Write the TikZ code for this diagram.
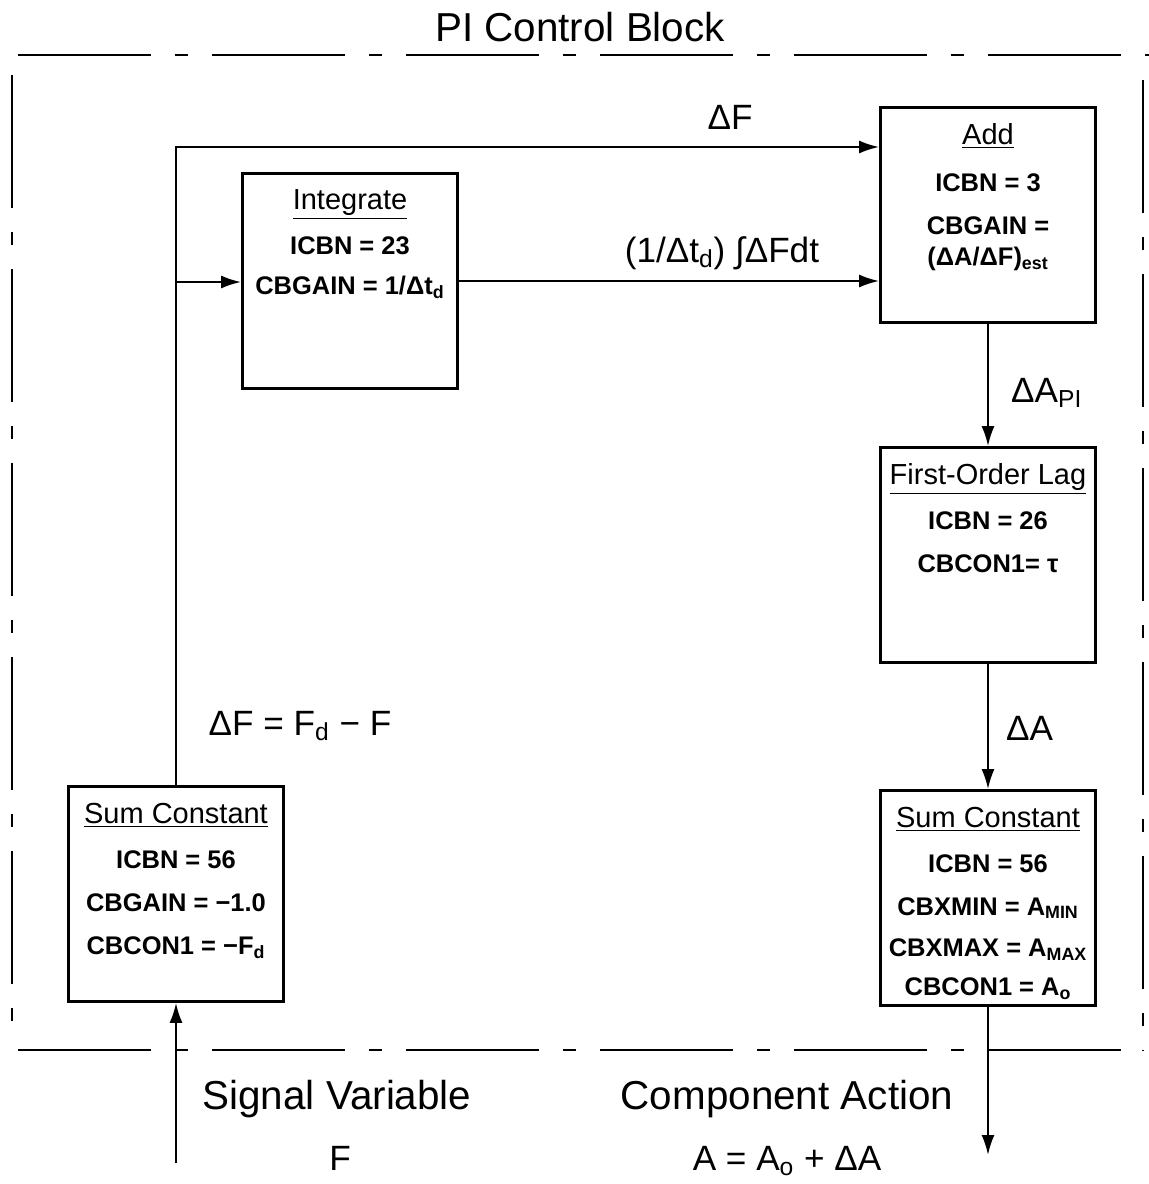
\documentclass[tikz,border=0pt]{standalone}
\usepackage{fontspec}
\setmainfont{Liberation Sans}
\usetikzlibrary{arrows.meta,positioning}

\newcommand{\blockhead}[1]{\underline{\fontsize{16.5}{24.5}\selectfont\mdseries #1}}

\begin{document}
\begin{tikzpicture}[
    x=0.02cm, y=-0.02cm,
    block/.style={rectangle, draw, line width=1.6pt, minimum width=4.3cm, minimum height=4.3cm, inner sep=0pt},
    blocktext/.style={align=center, inner sep=0pt, font=\fontsize{14.5}{24.5}\selectfont\bfseries},
    flow/.style={-{Latex[length=4mm,width=2.6mm]}, line width=1.2pt},
    flowlabel/.style={anchor=base, font=\fontsize{20}{24}\selectfont},
    biglabel/.style={anchor=base, font=\fontsize{23}{27}\selectfont},
    frame/.style={line width=1.6pt, dash pattern=on 2.66cm off 0.48cm on 0.26cm off 0.48cm}
]
\useasboundingbox (0,0) rectangle (1149,1184);

% PI block frame
\node[biglabel] (title) at (580,41) {PI Control Block};
\draw[frame] (18,55) -- (1149,55);
\draw[frame] (12,75) -- (12,1032);
\draw[frame] (18,1050) -- (1140,1050);
\draw[frame] (1143,80) -- (1143,1050);

% Blocks
\node[block] (integ) at (350,281) {};
\node[blocktext, below=0.35cm of integ.north] (integtxt) {\blockhead{Integrate}\\[1pt] ICBN = 23\\[-2pt] CBGAIN = 1/Δt\textsubscript{d}};

\node[block] (add) at (988,215) {};
\node[blocktext, below=0.35cm of add.north] (addtxt) {\blockhead{Add}\\[2pt] ICBN = 3\\ CBGAIN =\\[-7pt] (ΔA/ΔF)\textsubscript{est}};

\node[block] (lag) at (988,555) {};
\node[blocktext, below=0.35cm of lag.north] (lagtxt) {\blockhead{First-Order Lag}\\[1pt] ICBN = 26\\ CBCON1= τ};

\node[block] (lsum) at (176,894) {};
\node[blocktext, below=0.35cm of lsum.north] (lsumtxt) {\blockhead{Sum Constant}\\[1pt] ICBN = 56\\ CBGAIN = −1.0\\ CBCON1 = −F\textsubscript{d}};

\node[block] (rsum) at (988,898) {};
\node[blocktext, below=0.35cm of rsum.north] (rsumtxt) {\blockhead{Sum Constant}\\[1pt] ICBN = 56\\ CBXMIN = A\textsubscript{MIN}\\[-1pt] CBXMAX = A\textsubscript{MAX}\\[-2pt] CBCON1 = A\textsubscript{o}};

% Connectors
\coordinate (fbend) at (176,147);
\coordinate (split) at (176,282);
\coordinate (in) at (176,1163);
\coordinate (out) at (988,1155);

\draw[flow] (lsum.north) -- (fbend) -- (fbend -| add.west);
\draw[flow] (split) -- (split -| integ.west);
\draw[flow] (integ.east) -- (integ.east -| add.west);
\draw[flow] (add.south) -- (lag.north);
\draw[flow] (lag.south) -- (rsum.north);
\draw[flow] (rsum.south) -- (out);
\draw[flow] (in) -- (lsum.south);

% Signal labels
\node[flowlabel] (dFtop) at (730,129) {ΔF};
\node[flowlabel] (intlabel) at (722,262) {(1/Δt\textsubscript{d}) ∫ΔFdt};
\node[flowlabel] (dFeq) at (300,735) {ΔF = F\textsubscript{d} − F};
\node[flowlabel, anchor=base west] (dApi) at (1005,402) {ΔA\textsubscript{PI}};
\node[flowlabel, anchor=base west] (dA) at (1000,740) {ΔA};

% Outside the block
\node[biglabel] (sigvar) at (337,1109) {Signal Variable};
\node[flowlabel] (sigF) at (340,1170) {F};
\node[biglabel] (compact) at (787,1109) {Component Action};
\node[flowlabel] (compA) at (787,1170) {A = A\textsubscript{o} + ΔA};

\end{tikzpicture}
\end{document}
